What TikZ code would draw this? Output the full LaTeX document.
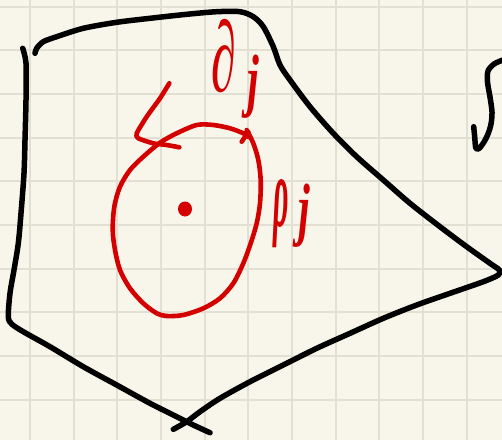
\documentclass[tikz,border=0pt]{standalone}
\usepackage{fontspec}
\newfontfamily\labfont{Liberation Serif}
\definecolor{paper}{HTML}{F8F6EA}
\definecolor{gridc}{HTML}{E2E0D3}
\definecolor{redink}{HTML}{D40000}
\begin{document}
\begin{tikzpicture}[x=1pt,y=-1pt,
  blackline/.style={line width=5.5pt, line cap=round, line join=round, draw=black},
  redline/.style={line width=4.6pt, line cap=round, line join=round, draw=redink},
  gridline/.style={line width=2pt, draw=gridc},
  redlabel/.style={text=redink, inner sep=0pt, font=\labfont\bfseries\itshape}]
\fill[paper] (0,0) rectangle (502,440);
\useasboundingbox (0,0) rectangle (502,440);
\foreach \i in {0,...,10} {\draw[gridline] ({30+43.67*\i},0) -- ({30+43.67*\i},440);}
\foreach \j in {0,...,9} {\draw[gridline] (0,{6.7+43.67*\j}) -- (502,{6.7+43.67*\j});}
% black outline, left and bottom-left stroke
\draw[blackline] plot[smooth, tension=0.5] coordinates {
  (22.7,48.3) (26,63.3) (26,100) (25,140) (24,173.3) (21,213.3) (18.3,243.3)
  (14,270) (10,293.3) (8.3,316.7) (11.7,324) (23.3,331.7) (50,346.7) (83.3,366.7)
  (116.7,385) (150,403.3) (176.7,416.7) (193.3,425) (210,432.7)};
% black outline, bottom-right, right and top stroke
\draw[blackline] plot[smooth, tension=0.5] coordinates {
  (173.3,429.3) (186.7,421.7) (200,411.7) (220,398.3) (250,381.7) (283.3,365)
  (316.7,348.3) (350,333.3) (383.3,318.3) (416.7,305) (450,293.3) (483.3,281.7)
  (498.3,275) (499.3,270) (490,263.3) (466.7,246.7) (440,226.7) (410,203.3)
  (383.3,180) (356.7,156.7) (333.3,133.3) (310,106.7) (290,80) (280,65)
  (273.3,46.7) (263.3,26.7) (253.3,16.7) (240,11.7) (216.7,11.7) (186.7,14.3)
  (150,18.3) (116.7,22.3) (83.3,28.3) (56.7,36.7) (43.3,41.7) (36.7,48.3) (35,53.3)};
% fragment at right edge
\draw[blackline] plot[smooth, tension=0.5] coordinates {
  (473.7,126.7) (474.7,137) (475.8,148) (479,148.5) (484,142) (488,134)
  (491,124) (492,112) (490,97) (487.5,82) (488,71) (494,64) (503,60)};
% red circle with arrow
\draw[redline] plot[smooth, tension=0.5] coordinates {
  (246.7,130) (253.3,143.3) (258.3,160) (260.7,180) (260,203.3) (256.7,223.3)
  (250.7,243.3) (243.3,263.3) (233.3,283.3) (220,298.3) (203.3,308.3) (183.3,315)
  (166.7,316) (156.7,313.3) (143.3,303.3) (130,288.3) (120,270) (115,250)
  (112.7,230) (114.3,206.7) (120,186.7) (130,170) (143.3,156.7) (160,142.7)
  (176.7,133.3) (196.7,125) (213.3,125) (230,128.3) (243.3,133.3) (248.3,137)};
\draw[redline] (241.7,141.7) -- (248.3,132);
% angle mark
\draw[redline] plot[smooth, tension=0.4] coordinates {
  (169.3,83.3) (160,98.3) (146.7,116.7) (136.7,133.3) (138.3,138.3)
  (153.3,143.3) (166.7,145) (179.3,147.3)};
% centre dot
\fill[redink] (185,209) ellipse [x radius=7pt, y radius=7.5pt];
% labels
\node[redlabel] (dlabel) at (235,69) {\fontsize{100}{100}\selectfont\scalebox{0.5}[1]{∂}\hspace{11pt}\raisebox{-12pt}{\fontsize{70}{70}\selectfont\scalebox{0.6}[1]{j}}};
\node[redlabel] (rholabel) at (292,214) {\fontsize{100}{100}\selectfont\scalebox{0.3}[1]{ρ}\hspace{10pt}\raisebox{-6pt}{\fontsize{70}{70}\selectfont\scalebox{0.6}[1]{j}}};
\end{tikzpicture}
\end{document}
